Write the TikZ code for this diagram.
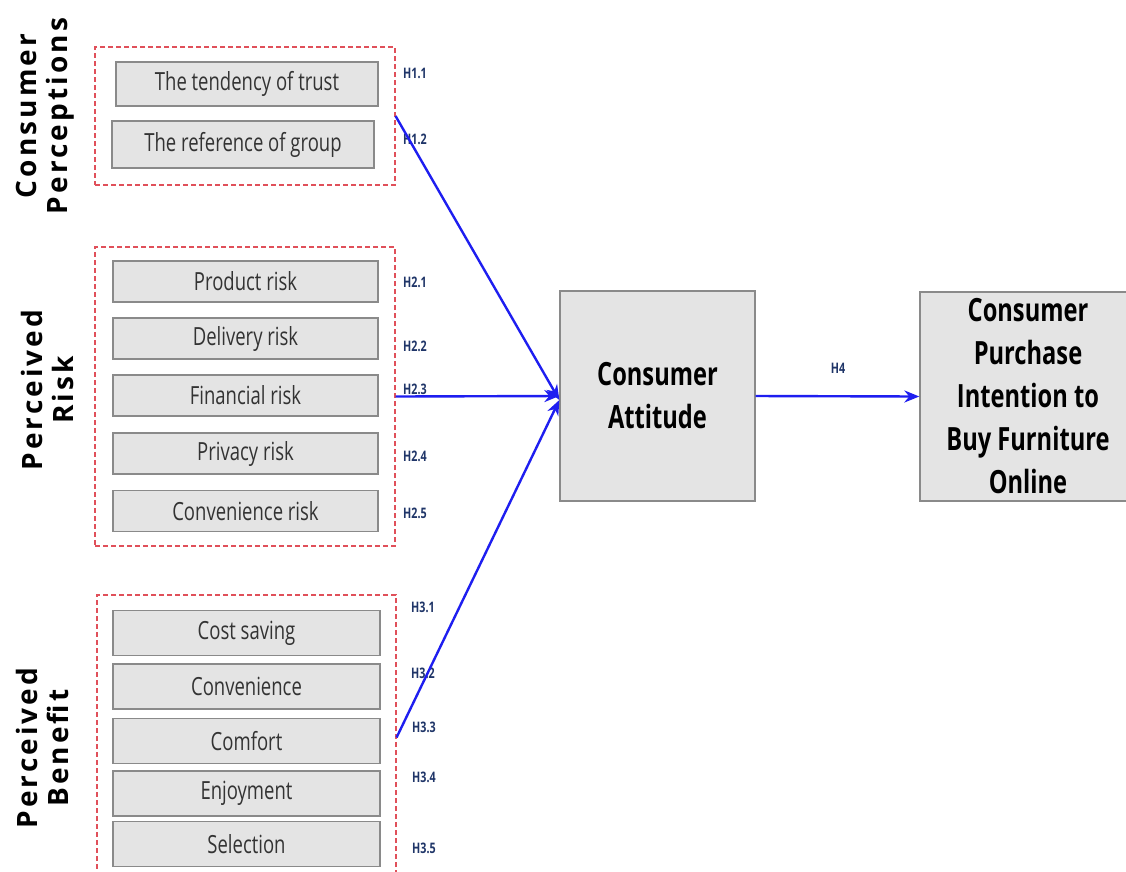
\documentclass[tikz,border=0pt]{standalone}
\usepackage{fontspec}
\setmainfont{Open Sans}[FakeStretch=0.74]
\newfontfamily\sidefont{Open Sans}[LetterSpace=11]
\usetikzlibrary{arrows.meta}
\definecolor{boxfill}{HTML}{E4E4E4}
\definecolor{boxline}{HTML}{8A8A8A}
\definecolor{dashred}{HTML}{E0505A}
\definecolor{arrowblue}{HTML}{1E1EF0}
\definecolor{hlabel}{HTML}{1F3568}
\tikzset{
  item/.style={draw=boxline, line width=1.3pt, fill=boxfill, inner sep=0pt, font=\fontsize{25}{27}\selectfont, text=black!80},
  group/.style={draw=dashred, dashed, dash pattern=on 5pt off 3pt, line width=1.1pt, inner sep=0pt},
  bigbox/.style={draw=boxline, line width=1.3pt, fill=boxfill, inner sep=0pt, align=center, font=\fontsize{32}{43}\selectfont\bfseries},
  hyp/.style={anchor=west, inner sep=0pt, text=hlabel, font=\fontsize{14.5}{16}\selectfont\bfseries},
  side/.style={rotate=90, align=center, inner sep=0pt, font=\sidefont\fontsize{28}{31}\selectfont\bfseries},
  link/.style={draw=arrowblue, line width=2.4pt, -{Stealth[length=15pt,width=12pt]}}
}
\begin{document}
\begin{tikzpicture}[x=1pt,y=-1pt]
\useasboundingbox (0,0) rectangle (1126,871);
\fill[white] (0,0) rectangle (1126,871);
% groups
\node[group, minimum width=300pt, minimum height=138pt] (g1) at (245,116) {};
\node[group, minimum width=300pt, minimum height=299pt] (g2) at (245,396.5) {};
\node[group, minimum width=299pt, minimum height=285pt] (g3) at (246.5,737.5) {};
% group 1
\node[item, minimum width=262pt, minimum height=44pt] (t1) at (247,84) {The tendency of trust};
\node[item, minimum width=262pt, minimum height=47pt] (t2) at (243,144.5) {The reference of group};
% group 2
\node[item, minimum width=265pt, minimum height=41pt] (r1) at (245.5,281.5) {Product risk};
\node[item, minimum width=265pt, minimum height=41pt] (r2) at (245.5,338.5) {Delivery risk};
\node[item, minimum width=265pt, minimum height=41pt] (r3) at (245.5,395.5) {Financial risk};
\node[item, minimum width=265pt, minimum height=41pt] (r4) at (245.5,453.5) {Privacy risk};
\node[item, minimum width=265pt, minimum height=41pt] (r5) at (245.5,511) {Convenience risk};
% group 3
\node[item, minimum width=267pt, minimum height=45pt] (b1) at (246.5,633) {Cost saving};
\node[item, minimum width=267pt, minimum height=45pt] (b2) at (246.5,686.5) {Convenience};
\node[item, minimum width=267pt, minimum height=45pt] (b3) at (246.5,741) {Comfort};
\node[item, minimum width=267pt, minimum height=45pt] (b4) at (246.5,793.5) {Enjoyment};
\node[item, minimum width=267pt, minimum height=45pt] (b5) at (246.5,844) {Selection};
% side labels
\node[side] (s1) at (45,116) {Consumer\\Perceptions};
\node[side] (s2) at (47,390) {Perceived\\Risk};
\node[side] (s3) at (42,748) {Perceived\\Benefit};
% big boxes
\node[bigbox, minimum width=195pt, minimum height=210pt] (att) at (657.5,396) {Consumer\\Attitude};
\node[bigbox, minimum width=216pt, minimum height=209pt] (pi) at (1028,396.5) {Consumer\\Purchase\\Intention to\\Buy Furniture\\Online};
% hypothesis labels
\node[hyp] (h11) at (403,73) {H1.1};
\node[hyp] (h12) at (403,139) {H1.2};
\node[hyp] (h21) at (403,282) {H2.1};
\node[hyp] (h22) at (403,346) {H2.2};
\node[hyp] (h23) at (403,389) {H2.3};
\node[hyp] (h24) at (403,456) {H2.4};
\node[hyp] (h25) at (403,513) {H2.5};
\node[hyp] (h31) at (411,607) {H3.1};
\node[hyp] (h32) at (411,673) {H3.2};
\node[hyp] (h33) at (412,727) {H3.3};
\node[hyp] (h34) at (412,777) {H3.4};
\node[hyp] (h35) at (412,848) {H3.5};
\node[hyp, anchor=center] (h4) at (838,368) {H4};
% connectors
\draw[link] (g1.east) -- ([yshift=-4pt]att.west);
\draw[link] (g2.east) -- (att.west);
\draw[link] (g3.east) -- ([yshift=-4pt]att.west);
\draw[link] (att.east) -- (pi.west);
\end{tikzpicture}
\end{document}
